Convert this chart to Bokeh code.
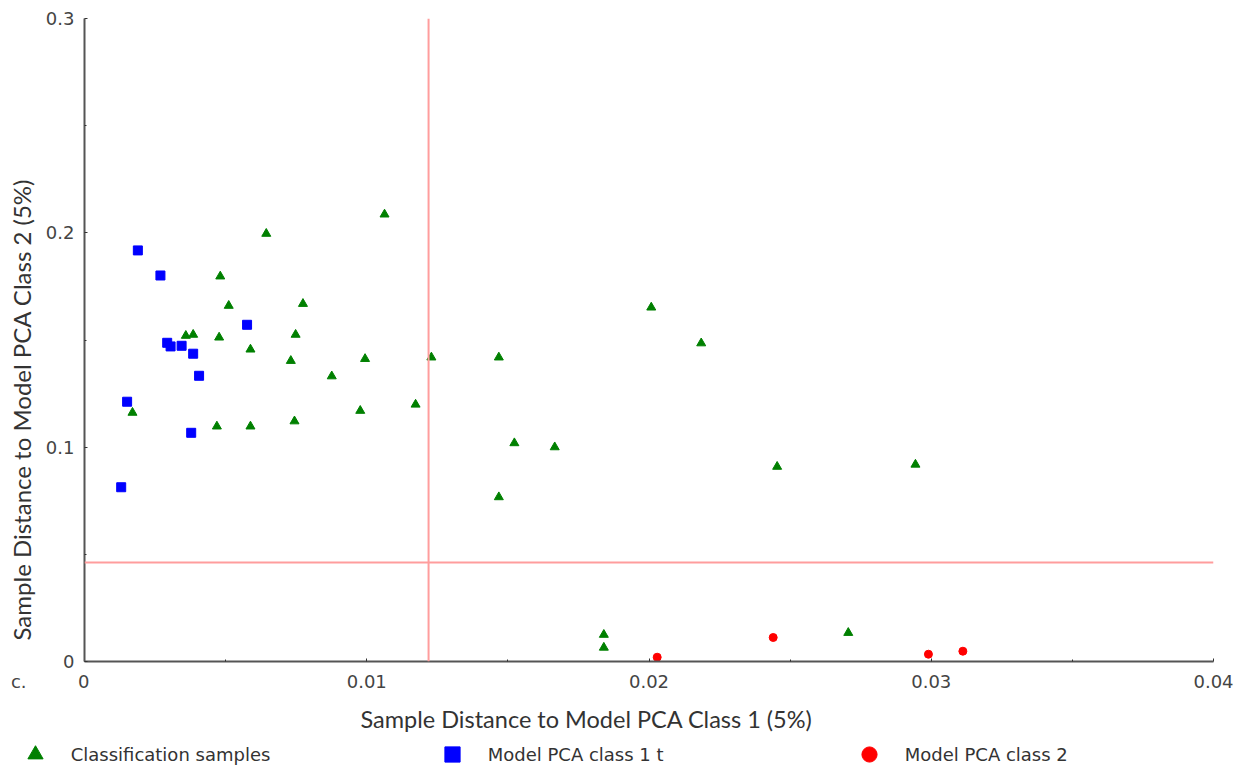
from bokeh.plotting import figure
from bokeh.layouts import column, row
from bokeh.models import (Range1d, FixedTicker, Span, Title, Label, Legend, LegendItem,
                          ColumnDataSource)
from bokeh.embed import file_html
from bokeh.resources import INLINE

# ---- data ----
class_x = [0.00644, 0.00481, 0.00511, 0.00774, 0.00359, 0.00385, 0.00477, 0.00748,
           0.00588, 0.00731, 0.00994, 0.00876, 0.00170, 0.00469, 0.00588, 0.00744,
           0.00977, 0.01173, 0.01063, 0.01229, 0.01468, 0.02008, 0.02185, 0.01523,
           0.01666, 0.02454, 0.01468, 0.02944, 0.01840, 0.01840, 0.02706]
class_y = [0.1996, 0.1797, 0.1660, 0.1669, 0.1520, 0.1525, 0.1512, 0.1525,
           0.1456, 0.1403, 0.1412, 0.1331, 0.1161, 0.1097, 0.1097, 0.1121,
           0.1170, 0.1199, 0.2086, 0.1419, 0.1419, 0.1652, 0.1485, 0.1019,
           0.1000, 0.0909, 0.0767, 0.0919, 0.0125, 0.0065, 0.0134]

pca1_x = [0.00189, 0.00269, 0.00576, 0.00293, 0.00305, 0.00344, 0.00385, 0.00406,
          0.00151, 0.00378, 0.00130]
pca1_y = [0.1918, 0.1801, 0.1571, 0.1487, 0.1470, 0.1473, 0.1436, 0.1333,
          0.1212, 0.1067, 0.0813]

pca2_x = [0.02029, 0.02440, 0.02990, 0.03112]
pca2_y = [0.0020, 0.0112, 0.0034, 0.0048]

limit_x = [0.01219]   # critical distance, class 1 model
limit_y = [0.0462]    # critical distance, class 2 model

x_ticks = [0, 0.01, 0.02, 0.03, 0.04]
x_tick_labels = ["0", "0.01", "0.02", "0.03", "0.04"]
y_ticks = [0, 0.1, 0.2, 0.3]
y_tick_labels = ["0", "0.1", "0.2", "0.3"]

panel_tag = "c."
x_title = "Sample Distance to Model PCA Class 1 (5%)"
y_title = "Sample Distance to Model PCA Class 2 (5%)"
series_labels = ["Classification samples", "Model PCA class 1 t", "Model PCA class 2"]

NB = "\u00a0"
W, H = 1246, 769
STRIP = 68

src_cls = ColumnDataSource(dict(x=class_x, y=class_y))
src_p1 = ColumnDataSource(dict(x=pca1_x, y=pca1_y))
src_p2 = ColumnDataSource(dict(x=pca2_x, y=pca2_y))

styles = [
    dict(marker="triangle", size=9, color="#008000"),
    dict(marker="square", size=9, color="#0000ff"),
    dict(marker="circle", size=8, color="#ff0000"),
]
sources = [src_cls, src_p1, src_p2]

# ---- main figure ----
FL, FT, FR, FB = 84, 18, 33, 40
p = figure(frame_width=W - FL - FR, frame_height=H - STRIP - FT - FB,
           min_border_left=FL, min_border_top=FT, min_border_right=FR, min_border_bottom=FB,
           x_range=Range1d(0, 0.04), y_range=Range1d(0, 0.3),
           output_backend="svg", toolbar_location=None)
p.outline_line_color = None
p.grid.visible = False
p.background_fill_color = "white"
p.border_fill_color = "white"

tick_font = "DejaVu Sans"
for ax in (p.xaxis[0], p.yaxis[0]):
    ax.axis_line_color = "#555555"
    ax.axis_line_width = 2
    ax.major_tick_in = 3
    ax.major_tick_out = 0
    ax.minor_tick_in = 2
    ax.minor_tick_out = 0
    ax.major_tick_line_color = "#333333"
    ax.minor_tick_line_color = "#333333"
    ax.major_label_text_font = tick_font
    ax.major_label_text_font_size = "18px"
    ax.major_label_text_color = "#444444"

# the panel tag "c." sits on the tick-label row, left of the "0" label
x_labels = list(x_tick_labels)
x_labels[0] = panel_tag + NB * 9 + x_tick_labels[0] + NB * 12
p.xaxis[0].ticker = FixedTicker(ticks=x_ticks, minor_ticks=[0.005, 0.015, 0.025, 0.035])
p.xaxis[0].major_label_overrides = dict(zip(x_ticks, x_labels))
p.xaxis[0].major_label_standoff = 9
p.yaxis[0].ticker = FixedTicker(ticks=y_ticks, minor_ticks=[0.05, 0.15, 0.25])
p.yaxis[0].major_label_overrides = dict(zip(y_ticks, y_tick_labels))
p.yaxis[0].major_label_standoff = 10

# reference lines
for v in limit_x:
    p.add_layout(Span(location=v, dimension="height", line_color="#ff9d9d", line_width=2))
for v in limit_y:
    p.add_layout(Span(location=v, dimension="width", line_color="#ff9d9d", line_width=2))

for src, st in zip(sources, styles):
    p.scatter("x", "y", source=src, **st)

lab_font = "Lato"
yt = Title(text=y_title, align="left", offset=21, standoff=10,
           vertical_align="top", text_font=lab_font, text_font_size="24px",
           text_font_style="normal", text_color="#333333")
p.add_layout(yt, "left")

# ---- strip below: x-axis title and legend ----
s = figure(width=W, height=STRIP, min_border=0, x_axis_location=None,
           y_axis_location=None, toolbar_location=None, output_backend="svg",
           x_range=Range1d(10, 11), y_range=Range1d(10, 11))
s.outline_line_color = None
s.grid.visible = False
s.background_fill_color = "white"
s.border_fill_color = "white"

s.add_layout(Label(x=360, y=STRIP - (718 - (H - STRIP)), x_units="screen", y_units="screen",
                   text=x_title, text_align="left", text_baseline="middle",
                   text_font=lab_font, text_font_size="23.5px", text_color="#333333"))

# legend proxies: same series, but outside the strip's visible range
keys = [s.scatter("x", "y", source=src, **st) for src, st in zip(sources, styles)]

G = 38
leg_center = 754 - (H - STRIP)
leg = Legend(items=[LegendItem(label=lab, renderers=[r]) for lab, r in zip(series_labels, keys)],
             location=(15.7, STRIP - (leg_center - G / 2) - G), orientation="horizontal",
             glyph_width=G, glyph_height=G, label_standoff=17, label_width=200,
             spacing=162, padding=0, margin=0, border_line_alpha=0,
             background_fill_alpha=0,
             label_text_font=tick_font, label_text_font_size="18px",
             label_text_color="#333333")
s.add_layout(leg)

aligned_ok = True
try:
    s.frame_align = False
    p.frame_align = False
except AttributeError:
    aligned_ok = False

layout = column(p, s) if aligned_ok else column(p, row(s))
open("out.html", "w").write(file_html(layout, INLINE))
